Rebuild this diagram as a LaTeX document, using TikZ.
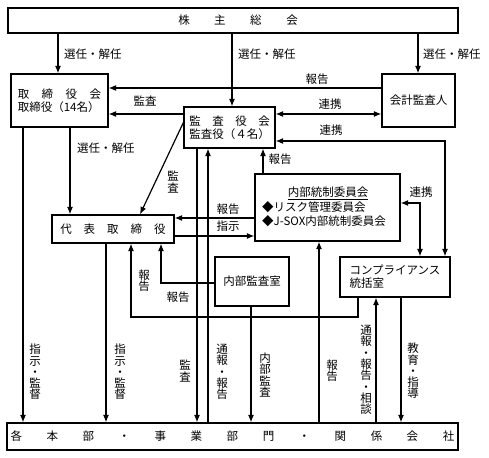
\documentclass[tikz,border=0pt]{standalone}
\usepackage{fontspec}
\setmainfont{Noto Sans CJK JP}
\usetikzlibrary{arrows.meta}
\begin{document}
\begin{tikzpicture}[x=1bp,y=-1bp,
  box/.style={draw,line width=1.2bp,inner sep=0pt,align=center,font=\fontsize{11.5bp}{13bp}\selectfont},
  lab/.style={inner sep=0pt,align=center,font=\fontsize{11.5bp}{11.3bp}\selectfont},
  arr/.style={line width=1.2bp,-{Latex[length=7.5bp,width=6bp]}},
  both/.style={line width=1.2bp,{Latex[length=7.5bp,width=6bp]}-{Latex[length=7.5bp,width=6bp]}}]
\useasboundingbox (0,0) rectangle (489,458);
% boxes
\node[box,minimum width=450bp,minimum height=25bp] (kabu) at (233,20.5) {\hspace{10bp}株\hspace{24.5bp}主\hspace{24.5bp}総\hspace{24.5bp}会};
\node[box,minimum width=97bp,minimum height=53bp,align=left] (tori) at (59.5,100.5) {取\hspace{12.5bp}締\hspace{12.5bp}役\hspace{12.5bp}会\\取締役（14名）};
\node[box,minimum width=73bp,minimum height=53bp] (kaikei) at (418.5,100.5) {会計監査人};
\node[box,minimum width=91bp,minimum height=41bp,align=left] (kansa) at (229.5,127.5) {監\hspace{11.5bp}査\hspace{11.5bp}役\hspace{11.5bp}会\\監査役（４名）};
\node[box,minimum width=122bp,minimum height=28bp] (daihyo) at (113,229) {代\hspace{12bp}表\hspace{12bp}取\hspace{12bp}締\hspace{12bp}役};
\node[box,minimum width=145bp,minimum height=67bp] (naibu) at (327.5,207.5) {};
\node[lab] (naibuT) at (328,193) {\underline{内部統制委員会}};
\node[lab,anchor=west] (naibuA) at (262,207) {◆リスク管理委員会};
\node[lab,anchor=west] (naibuB) at (262,221) {◆J-SOX内部統制委員会};
\node[box,minimum width=110bp,minimum height=40bp,align=left] (comp) at (395,277) {コンプライアンス\\統括室};
\node[box,minimum width=74bp,minimum height=49bp] (audit) at (252,281.5) {内部監査室};
\node[box,minimum width=451bp,minimum height=27bp] (kaku) at (232.5,436.5) {各\hspace{24.5bp}本\hspace{24.5bp}部\hspace{24.5bp}・\hspace{24.5bp}事\hspace{24.5bp}業\hspace{24.5bp}部\hspace{24.5bp}門\hspace{24.5bp}・\hspace{24.5bp}関\hspace{24.5bp}係\hspace{24.5bp}会\hspace{24.5bp}社};
% helper coordinates
\foreach \x in {23,58,70,106,131,140,161,197,208,232,251,263,319,358,376,401,418,420,445}
  \coordinate (c\x) at (\x,0);
\foreach \y in {88,114,141,203,218,236,283,317}
  \coordinate (r\y) at (0,\y);
% connectors
\draw[arr] (kabu.south -| c58) -- (tori.north -| c58);
\draw[arr] (kabu.south -| c232) -- (kansa.north -| c232);
\draw[arr] (kabu.south -| c418) -- (kaikei.north -| c418);
\draw[arr] (kaikei.west |- r88) -- (tori.east |- r88);
\draw[arr] (kansa.west |- r114) -- (tori.east |- r114);
\draw[both] (kansa.east |- r114) -- (kaikei.west |- r114);
\draw[both] (kansa.east |- r141) -- (c445 |- r141) -- (comp.north -| c445);
\draw[arr] (tori.south -| c70) -- (daihyo.north -| c70);
\draw[arr] (tori.south -| c23) -- (kaku.north -| c23);
\draw[arr] ([yshift=5bp]kansa.west) -- (daihyo.north -| c140);
\draw[arr] (naibu.west |- r218) -- (daihyo.east |- r218);
\draw[arr] (daihyo.east |- r236) -- (naibu.west |- r236);
\draw[arr] (naibu.north -| c263) -- (kansa.south -| c263);
\draw[both] (naibu.east |- r203) -- (c420 |- r203) -- (comp.north -| c420);
\draw[arr] (daihyo.south -| c106) -- (kaku.north -| c106);
\draw[arr] (comp.south -| c358) -- (c358 |- r317) -- (c131 |- r317) -- (daihyo.south -| c131);
\draw[arr] (audit.west |- r283) -- (c161 |- r283) -- (daihyo.south -| c161);
\draw[arr] (kansa.south -| c197) -- (kaku.north -| c197);
\draw[arr] (kaku.north -| c208) -- (kansa.south -| c208);
\draw[arr] (audit.south -| c251) -- (kaku.north -| c251);
\draw[arr] (kaku.north -| c319) -- (naibu.south -| c319);
\draw[arr] (kaku.north -| c376) -- (comp.south -| c376);
\draw[arr] (comp.south -| c401) -- (kaku.north -| c401);
% labels
\node[lab,anchor=west] (l1) at (64,54) {選任・解任};
\node[lab,anchor=west] (l2) at (238,54) {選任・解任};
\node[lab,anchor=west] (l3) at (423,54) {選任・解任};
\node[lab] (l4) at (317,79) {報告};
\node[lab] (l5) at (145,101) {監査};
\node[lab] (l6) at (330,104) {連携};
\node[lab] (l7) at (331,130) {連携};
\node[lab,anchor=west] (l8) at (77,148) {選任・解任};
\node[lab] (l9) at (173,182) {監\\査};
\node[lab] (l10) at (280,159) {報告};
\node[lab] (l11) at (421,192) {連携};
\node[lab] (l12) at (228,209) {報告};
\node[lab] (l13) at (228,226) {指示};
\node[lab] (l14) at (144,281) {報\\告};
\node[lab] (l15) at (178,297) {報告};
\node[lab] (l16) at (35,372) {指\\示\\・\\監\\督};
\node[lab] (l17) at (120,372) {指\\示\\・\\監\\督};
\node[lab] (l18) at (185,371) {監\\査};
\node[lab] (l19) at (222,372) {通\\報\\・\\報\\告};
\node[lab] (l20) at (265,375) {内\\部\\監\\査};
\node[lab] (l21) at (332,371) {報\\告};
\node[lab] (l22) at (366,370) {通\\報\\・\\報\\告\\・\\相\\談};
\node[lab] (l23) at (413,371) {教\\育\\・\\指\\導};
\end{tikzpicture}
\end{document}
